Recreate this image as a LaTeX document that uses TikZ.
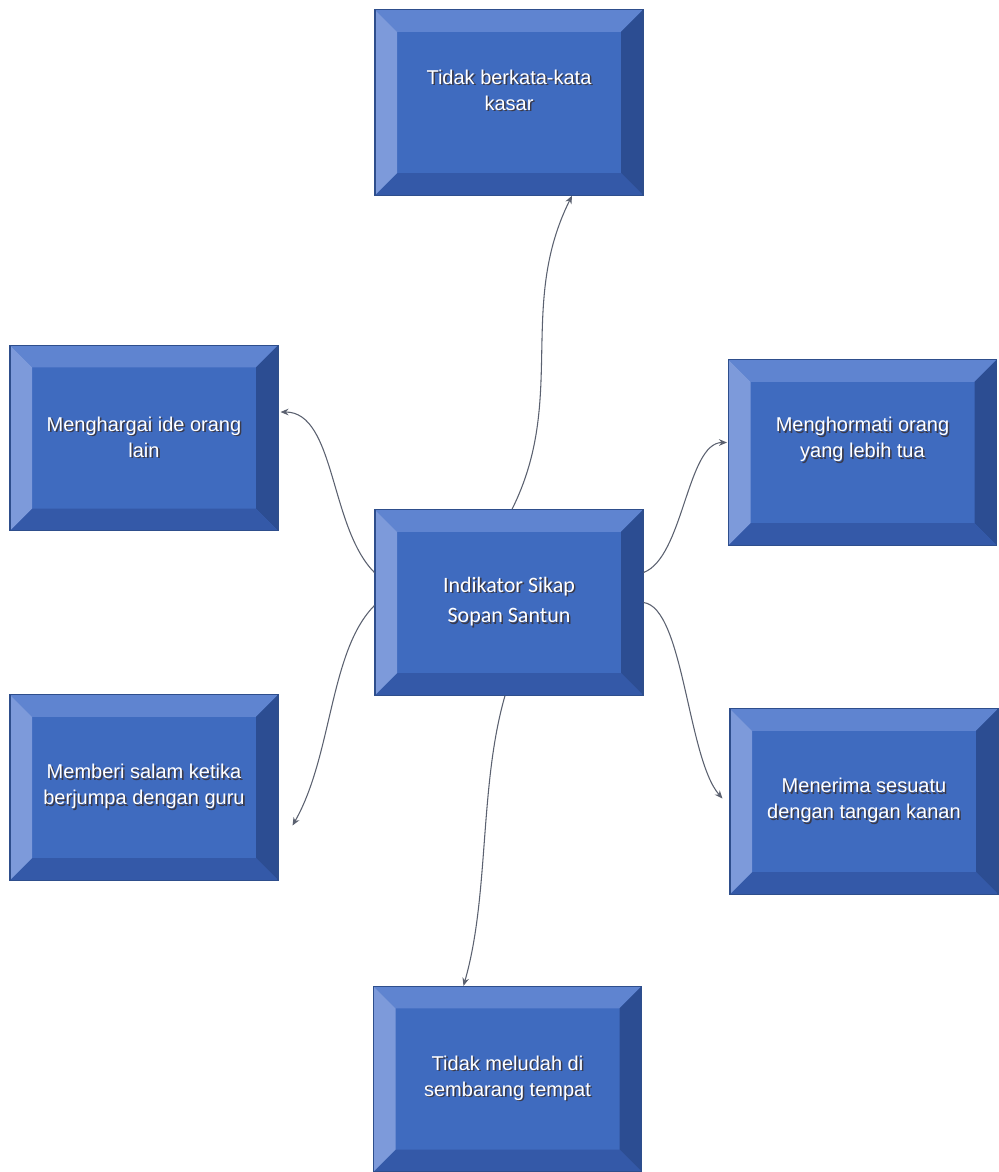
\documentclass[tikz,border=0pt]{standalone}
\usepackage{fontspec}
\setmainfont{Liberation Sans}
\newfontfamily\calfont{Carlito}
\usetikzlibrary{arrows.meta}
\definecolor{facec}{HTML}{3F6BBF}
\definecolor{topc}{HTML}{5F84D0}
\definecolor{leftc}{HTML}{7D9ADA}
\definecolor{rightc}{HTML}{2C4D92}
\definecolor{bottomc}{HTML}{3459A8}
\definecolor{edgec}{HTML}{2E4E8C}
\definecolor{shadowc}{HTML}{3A3A4A}
\definecolor{connc}{HTML}{5B6170}
\newcommand\shl[1]{\makebox[0pt][l]{\kern1.2pt\raisebox{-1.2pt}{\textcolor{shadowc}{#1}}}#1}
\newcommand\bevelfill{%
 \fill[topc] (path picture bounding box.north west) -- (path picture bounding box.north east) -- ([shift={(-16.5pt,-16.5pt)}]path picture bounding box.north east) -- ([shift={(16.5pt,-16.5pt)}]path picture bounding box.north west) -- cycle;
 \fill[rightc] (path picture bounding box.north east) -- (path picture bounding box.south east) -- ([shift={(-16.5pt,16.5pt)}]path picture bounding box.south east) -- ([shift={(-16.5pt,-16.5pt)}]path picture bounding box.north east) -- cycle;
 \fill[bottomc] (path picture bounding box.south east) -- (path picture bounding box.south west) -- ([shift={(16.5pt,16.5pt)}]path picture bounding box.south west) -- ([shift={(-16.5pt,16.5pt)}]path picture bounding box.south east) -- cycle;
 \fill[leftc] (path picture bounding box.south west) -- (path picture bounding box.north west) -- ([shift={(16.5pt,-16.5pt)}]path picture bounding box.north west) -- ([shift={(16.5pt,16.5pt)}]path picture bounding box.south west) -- cycle;
}
\begin{document}
\begin{tikzpicture}[x=0.75pt,y=-0.75pt,
  bevelbox/.style={draw=edgec, line width=0.8pt, fill=facec, minimum width=201pt, minimum height=139pt,
    inner sep=0pt, text=white, align=center, font=\fontsize{15}{19.5}\selectfont, path picture={\bevelfill}},
  conn/.style={draw=connc, line width=0.8pt, -{Stealth[length=6pt,width=5pt]}}]
\fill[white] (0,0) rectangle (999,1172);
\useasboundingbox (0,0) rectangle (999,1172);

\node[bevelbox, text depth=19pt] (top) at (509,102.5) {\shl{Tidak berkata-kata}\\\shl{kasar}};
\node[bevelbox, font=\calfont\fontsize{16.5}{23}\selectfont] (c) at (509,602.5) {\shl{Indikator Sikap}\\\shl{Sopan Santun}};
\node[bevelbox] (lu) at (144,438) {\shl{Menghargai ide orang}\\\shl{lain}};
\node[bevelbox, text depth=23pt] (ru) at (862.5,452.5) {\shl{Menghormati orang}\\\shl{yang lebih tua}};
\node[bevelbox] (ll) at (144,787.5) {\shl{Memberi salam ketika}\\\shl{berjumpa dengan guru}};
\node[bevelbox] (rl) at (864,801.5) {\shl{Menerima sesuatu}\\\shl{dengan tangan kanan}};
\node[bevelbox] (bot) at (507.5,1079) {\shl{Tidak meludah di}\\\shl{sembarang tempat}};

\draw[conn] ([shift={(3,0)}]c.north) .. controls +(55,-110) and +(-55,110) .. ([shift={(63,0)}]top.south);
\draw[conn] ([shift={(0,-30)}]c.west) .. controls +(-45,-45) and +(55,0) .. ([shift={(2,-26)}]lu.east);
\draw[conn] ([shift={(0,3)}]c.west) .. controls +(-45,45) and +(40,-70) .. ([shift={(14,38)}]ll.east);
\draw[conn] ([shift={(0,-30)}]c.east) .. controls +(40,-15) and +(-40,0) .. ([shift={(-1,-10)}]ru.west);
\draw[conn] (c.east) .. controls +(40,5) and +(-35,-40) .. ([shift={(-7,-3)}]rl.west);
\draw[conn] ([shift={(-4,0)}]c.south) .. controls +(-26,90) and +(26,-90) .. ([shift={(-44,0)}]bot.north);
\end{tikzpicture}
\end{document}
